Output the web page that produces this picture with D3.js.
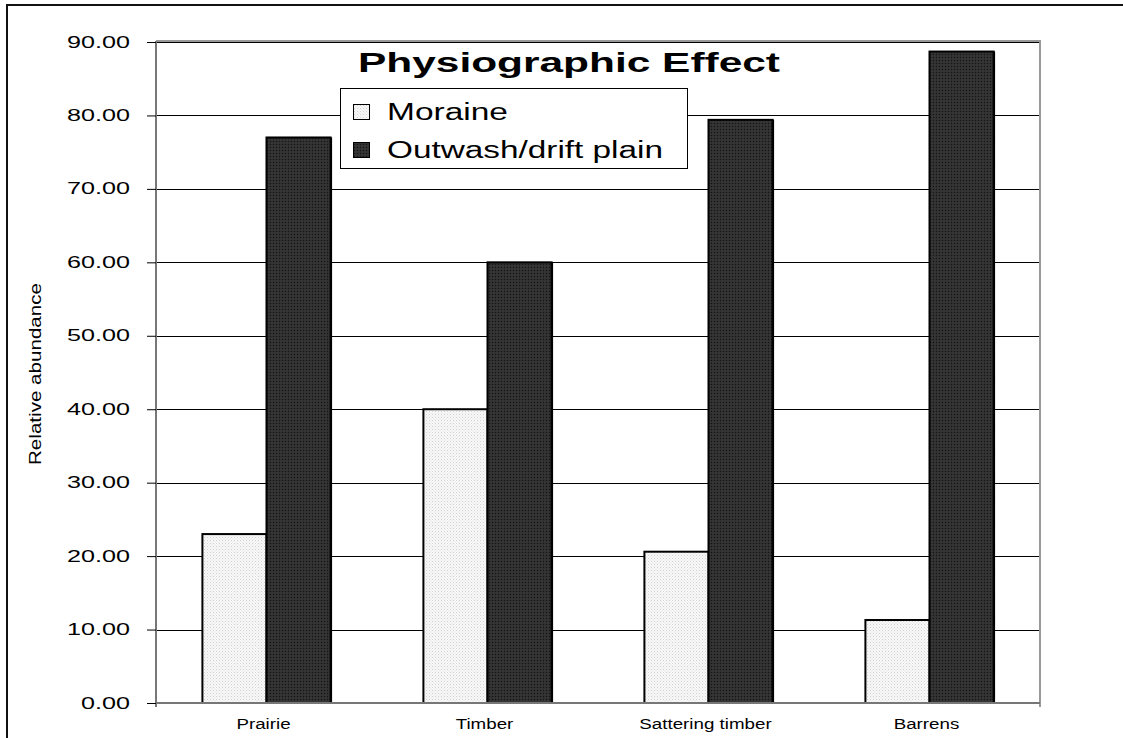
<!DOCTYPE html>
<html><head><meta charset="utf-8">
<script src="https://cdn.jsdelivr.net/npm/d3@7/dist/d3.min.js"></script>
<style>html,body{margin:0;padding:0;background:#fff;overflow:hidden;} svg{display:block;font-family:Arial,"Liberation Sans",sans-serif;}</style>
</head><body>
<svg id="c" width="1123" height="738"></svg>
<script>
const categories = ["Prairie", "Timber", "Sattering timber", "Barrens"];
const seriesNames = ["Moraine", "Outwash/drift plain"];
const moraine = [23.0, 40.0, 20.6, 11.3];
const outwash = [77.0, 60.0, 79.4, 88.7];
const yTicks = [0, 10, 20, 30, 40, 50, 60, 70, 80, 90];
const titleText = "Physiographic Effect";
const yLabel = "Relative abundance";

const FONT = "Arial, 'Liberation Sans', sans-serif";
const svg = d3.select("#c");
svg.append("rect").attr("width",1123).attr("height",738).attr("fill","#fff");
const defs = svg.append("defs");
const p1 = defs.append("pattern").attr("id","pLight").attr("width",3).attr("height",3).attr("patternUnits","userSpaceOnUse");
p1.append("rect").attr("width",3).attr("height",3).attr("fill","#f8f8f8");
p1.append("rect").attr("x",0).attr("y",0).attr("width",1).attr("height",1).attr("fill","#d0d0d0");
p1.append("rect").attr("x",1.5).attr("y",1.5).attr("width",1).attr("height",1).attr("fill","#dedede");
const p2 = defs.append("pattern").attr("id","pDark").attr("width",3).attr("height",3).attr("patternUnits","userSpaceOnUse");
p2.append("rect").attr("width",3).attr("height",3).attr("fill","#2f2f2f");
p2.append("rect").attr("x",0).attr("y",0).attr("width",1).attr("height",1).attr("fill","#141414");
p2.append("rect").attr("x",1.5).attr("y",1.5).attr("width",1).attr("height",1).attr("fill","#454545");

// outer frame (left and top edges only are within view)
svg.append("path").attr("d","M7,738 L7,5 L1123,5").attr("fill","none")
  .attr("stroke","#111").attr("stroke-width",2);

const L = 156, R = 1040, T = 41, B = 703;
const x0 = d3.scaleBand().domain(categories).range([L, R]).paddingInner(0.42).paddingOuter(0.21);
const x1 = d3.scaleBand().domain(seriesNames).range([0, x0.bandwidth()]);
const y = d3.scaleLinear().domain([0, 90]).range([B, T + 1]);

// gridlines
svg.append("g").selectAll("line").data(yTicks.slice(1)).join("line")
  .attr("x1", L).attr("x2", R).attr("y1", d => Math.round(y(d))+0.5).attr("y2", d => Math.round(y(d))+0.5)
  .attr("stroke","#000").attr("stroke-width",1);

// plot border top/right grey
svg.append("line").attr("x1",L).attr("x2",R+1).attr("y1",T).attr("y2",T).attr("stroke","#999").attr("stroke-width",2);
svg.append("line").attr("x1",R).attr("x2",R).attr("y1",T).attr("y2",B+4).attr("stroke","#999").attr("stroke-width",2);

// bars
const data = categories.map((c,i) => ({c, vals:[{s:seriesNames[0], v:moraine[i]},{s:seriesNames[1], v:outwash[i]}]}));
const g = svg.append("g");
data.forEach(d => {
  d.vals.forEach(e => {
    const dark = e.s === seriesNames[1];
    g.append("rect")
      .attr("x", x0(d.c) + x1(e.s))
      .attr("y", y(e.v))
      .attr("width", x1.bandwidth())
      .attr("height", B - y(e.v))
      .attr("fill", dark ? "url(#pDark)" : "url(#pLight)")
      .attr("stroke", "#000").attr("stroke-width", 2);
    if (dark) {
      g.append("line")
        .attr("x1", x0(d.c) + x1(e.s) + x1.bandwidth() + 0.5).attr("x2", x0(d.c) + x1(e.s) + x1.bandwidth() + 0.5)
        .attr("y1", y(e.v)).attr("y2", B).attr("stroke","#000").attr("stroke-width",2);
    }
  });
});

// y axis
const yAxis = d3.axisLeft(y).tickValues(yTicks).tickFormat(d3.format(".2f")).tickSize(9).tickPadding(12);
const ya = svg.append("g").attr("transform", `translate(${L},0)`).call(yAxis);
ya.select(".domain").attr("stroke","#777").attr("stroke-width",2).attr("d", `M0,${T}V${B+4}`);
ya.selectAll(".tick line").attr("stroke","#000");
ya.selectAll(".tick text").attr("font-size",17).attr("fill","#000").attr("font-family",FONT)
  .attr("x",0).attr("dy","0.3em").attr("transform","translate(-26,0) scale(1.48,1)");

// x axis
const xAxis = d3.axisBottom(x0).tickSize(0).tickPadding(10);
const xa = svg.append("g").attr("transform", `translate(0,${B})`).call(xAxis);
xa.select(".domain").attr("stroke","#777").attr("stroke-width",2).attr("d", `M${L},0H${R}`);
xa.selectAll(".tick text").attr("font-size",15).attr("fill","#000").attr("font-family",FONT)
  .attr("y",0).attr("dy",0).attr("transform","translate(-3,26) scale(1.25,1)");

// y label
svg.append("text").attr("transform","translate(41,374) rotate(-90)").attr("text-anchor","middle")
  .attr("font-size",17).attr("textLength",182).attr("lengthAdjust","spacingAndGlyphs").text(yLabel);

// title
svg.append("text").attr("x",569).attr("y",72).attr("text-anchor","middle")
  .attr("font-size",27).attr("font-weight","bold")
  .attr("textLength",422).attr("lengthAdjust","spacingAndGlyphs").text(titleText);

// legend
const lg = svg.append("g");
lg.append("rect").attr("x",340.5).attr("y",88.5).attr("width",347).attr("height",80)
  .attr("fill","#fff").attr("stroke","#000").attr("stroke-width",1);
const legLen = [121, 276];
seriesNames.forEach((s,i) => {
  const base = 120 + i*38;
  lg.append("rect").attr("x",353.5).attr("y",base-15.5).attr("width",16).attr("height",15)
    .attr("fill", i===0 ? "url(#pLight)" : "url(#pDark)").attr("stroke","#000").attr("stroke-width",1);
  lg.append("text").attr("x",387).attr("y",base).attr("font-size",23)
    .attr("textLength",legLen[i]).attr("lengthAdjust","spacingAndGlyphs").text(s);
});
</script>
</body></html>
